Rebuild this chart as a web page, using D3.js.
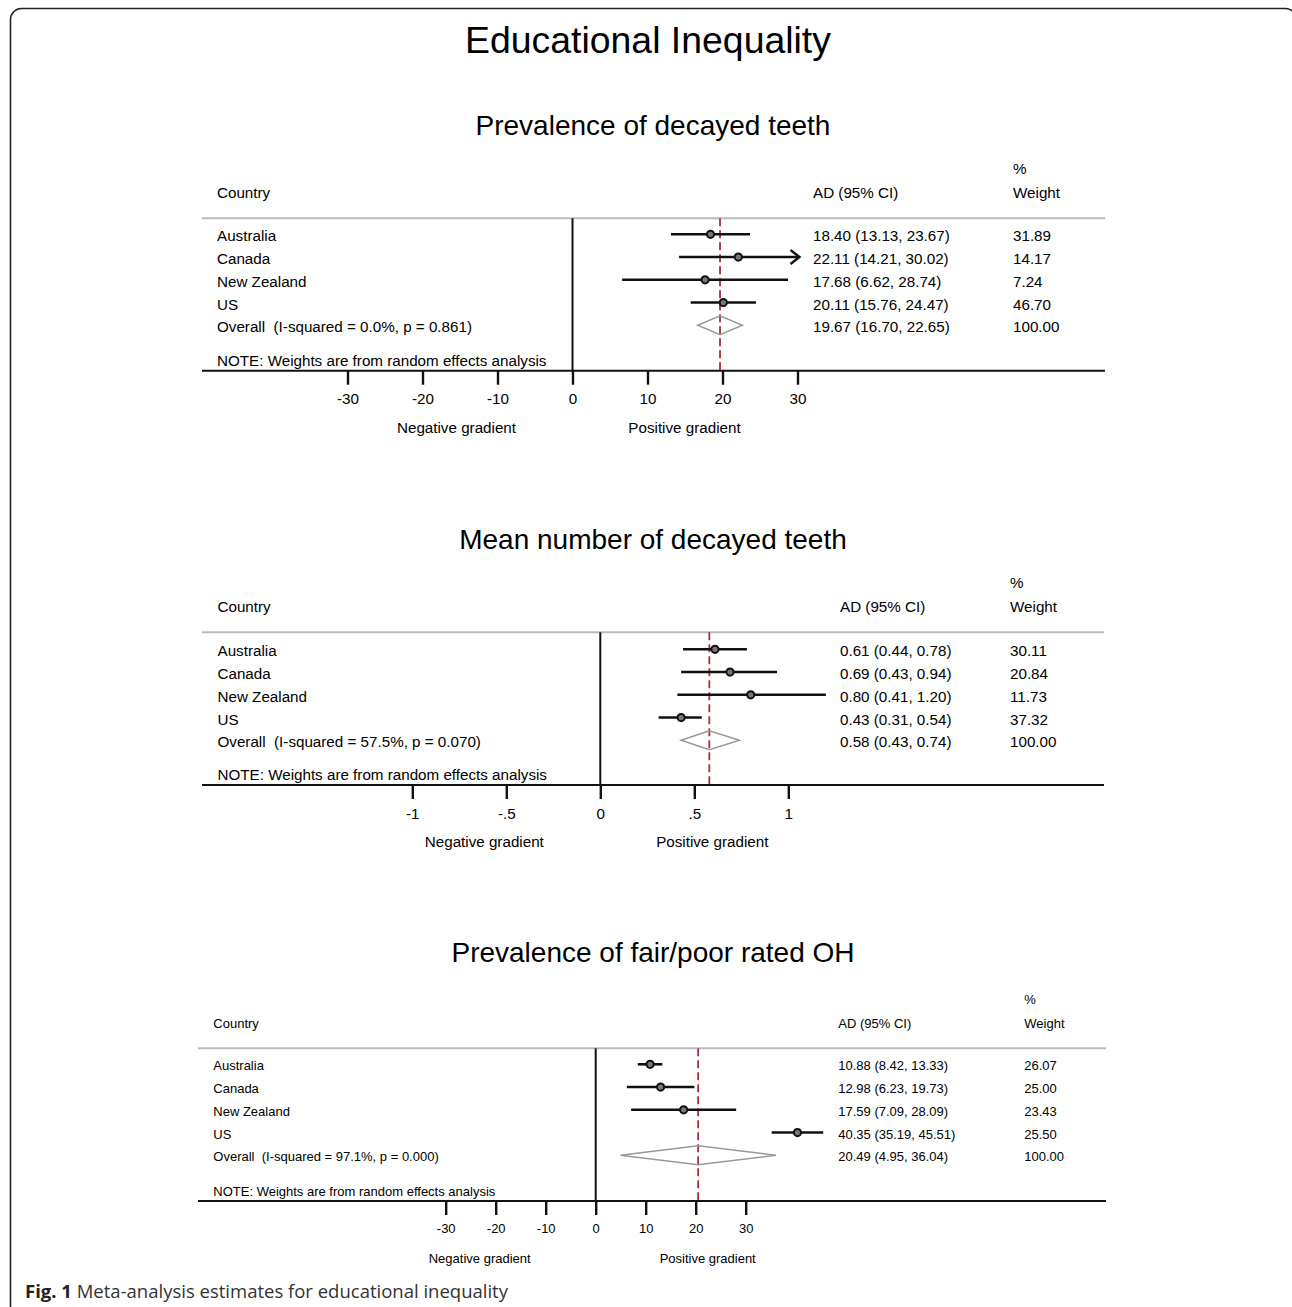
<!DOCTYPE html>
<html>
<head>
    <title>Educational Inequality</title>
    <script src="https://d3js.org/d3.v7.min.js"></script>
    <style>
        body { margin: 0; background: #fff; }
        text { white-space: pre; }
    </style>
</head>
<body>
    <script>
        // data
        const countries = ["Australia", "Canada", "New Zealand", "US"];

        const prevEst = [18.40, 22.11, 17.68, 20.11];
        const prevLo = [13.13, 14.21, 6.62, 15.76];
        const prevHi = [23.67, 30.02, 28.74, 24.47];
        const prevWeight = [31.89, 14.17, 7.24, 46.70];
        const prevOverall = [19.67, 16.70, 22.65];
        const prevHet = "I-squared = 0.0%, p = 0.861";

        const meanEst = [0.61, 0.69, 0.80, 0.43];
        const meanLo = [0.44, 0.43, 0.41, 0.31];
        const meanHi = [0.78, 0.94, 1.20, 0.54];
        const meanWeight = [30.11, 20.84, 11.73, 37.32];
        const meanOverall = [0.58, 0.43, 0.74];
        const meanHet = "I-squared = 57.5%, p = 0.070";

        const ohEst = [10.88, 12.98, 17.59, 40.35];
        const ohLo = [8.42, 6.23, 7.09, 35.19];
        const ohHi = [13.33, 19.73, 28.09, 45.51];
        const ohWeight = [26.07, 25.00, 23.43, 25.50];
        const ohOverall = [20.49, 4.95, 36.04];
        const ohHet = "I-squared = 97.1%, p = 0.000";

        const ticks30 = [-30, -20, -10, 0, 10, 20, 30];
        const tickLabels30 = ["-30", "-20", "-10", "0", "10", "20", "30"];
        const ticks1 = [-1, -0.5, 0, 0.5, 1];
        const tickLabels1 = ["-1", "-.5", "0", ".5", "1"];

        const W = 1292, H = 1307;
        const font = "'Liberation Sans', Arial, Helvetica, sans-serif";
        const f2 = d3.format(".2f");

        const svg = d3.select("body").append("svg")
            .attr("width", W).attr("height", H)
            .style("font-family", font);

        // frame (right and bottom edges run off the page)
        svg.append("rect")
            .attr("x", 10.5).attr("y", 8.5)
            .attr("width", 1286).attr("height", 1330)
            .attr("rx", 11)
            .attr("fill", "none").attr("stroke", "#222").attr("stroke-width", 1.6);

        svg.append("text")
            .attr("x", 648).attr("y", 53)
            .attr("text-anchor", "middle")
            .attr("font-size", 37.4).attr("fill", "#000")
            .text("Educational Inequality");

        // plotMax: CIs beyond it are cut and drawn with an arrow
        const panels = [
            {title: "Prevalence of decayed teeth", est: prevEst, lo: prevLo, hi: prevHi, wt: prevWeight,
             overall: prevOverall, het: prevHet, ticks: ticks30, tickLabels: tickLabels30, domain: [-30, 30],
             range: [347.5, 797.5], plotMax: 30, titleY: 135, head: 218.3, row0: 234.3, step: 22.75, axisY: 370.7,
             lineX: [202, 1105], countryX: 217, adX: 813, wtX: 1013, fs: 15.2, textDy: 7},
            {title: "Mean number of decayed teeth", est: meanEst, lo: meanLo, hi: meanHi, wt: meanWeight,
             overall: meanOverall, het: meanHet, ticks: ticks1, tickLabels: tickLabels1, domain: [-1, 1],
             range: [412.3, 788.3], plotMax: Infinity, titleY: 549, head: 632.3, row0: 649.3, step: 22.75, axisY: 785,
             lineX: [202, 1104], countryX: 217.5, adX: 840, wtX: 1010, fs: 15.2, textDy: 7},
            {title: "Prevalence of fair/poor rated OH", est: ohEst, lo: ohLo, hi: ohHi, wt: ohWeight,
             overall: ohOverall, het: ohHet, ticks: ticks30, tickLabels: tickLabels30, domain: [-30, 30],
             range: [445.7, 745.7], plotMax: Infinity, titleY: 962, head: 1048.3, row0: 1064.3, step: 22.75, axisY: 1201,
             lineX: [198, 1106], countryX: 213.3, adX: 838.3, wtX: 1024.3, fs: 13, textDy: 6}
        ];

        panels.forEach(p => {
            const g = svg.append("g");
            const x = d3.scaleLinear().domain(p.domain).range(p.range);
            const rowY = i => p.row0 + i * p.step;
            const txt = (xx, yy, s, anchor) => g.append("text")
                .attr("x", xx).attr("y", yy)
                .attr("text-anchor", anchor || "start")
                .attr("font-size", p.fs).attr("fill", "#000")
                .text(s);

            g.append("text")
                .attr("x", 653).attr("y", p.titleY)
                .attr("text-anchor", "middle")
                .attr("font-size", 28).attr("fill", "#000")
                .text(p.title);

            // headers
            const hy = p.head - 20.5;
            txt(p.countryX, hy, "Country");
            txt(p.adX, hy, "AD (95% CI)");
            txt(p.wtX, hy - 24, "%");
            txt(p.wtX, hy, "Weight");

            g.append("line")
                .attr("x1", p.lineX[0]).attr("x2", p.lineX[1])
                .attr("y1", p.head).attr("y2", p.head)
                .attr("stroke", "#bbb").attr("stroke-width", 2);

            // zero line
            g.append("line")
                .attr("x1", x(0)).attr("x2", x(0))
                .attr("y1", p.head).attr("y2", p.axisY)
                .attr("stroke", "#111").attr("stroke-width", 2);

            // overall estimate line
            g.append("line")
                .attr("x1", x(p.overall[0])).attr("x2", x(p.overall[0]))
                .attr("y1", p.head).attr("y2", p.axisY)
                .attr("stroke", "#a3303c").attr("stroke-width", 1.8)
                .attr("stroke-dasharray", "8,4");

            // study rows
            countries.forEach((c, i) => {
                const y = rowY(i);
                const hi = Math.min(p.hi[i], p.plotMax);
                g.append("line")
                    .attr("x1", x(p.lo[i])).attr("x2", x(hi))
                    .attr("y1", y).attr("y2", y)
                    .attr("stroke", "#111").attr("stroke-width", 2.6);
                if (p.hi[i] > p.plotMax) {
                    const tx = x(hi) + 2;
                    g.append("path")
                        .attr("d", `M${tx - 9},${y - 7} L${tx},${y} L${tx - 9},${y + 7}`)
                        .attr("fill", "none").attr("stroke", "#111").attr("stroke-width", 2.4);
                }
                g.append("circle")
                    .attr("cx", x(p.est[i])).attr("cy", y).attr("r", 3.6)
                    .attr("fill", "#777").attr("stroke", "#111").attr("stroke-width", 2);
                txt(p.countryX, y + p.textDy, c);
                txt(p.adX, y + p.textDy, `${f2(p.est[i])} (${f2(p.lo[i])}, ${f2(p.hi[i])})`);
                txt(p.wtX, y + p.textDy, f2(p.wt[i]));
            });

            // overall diamond
            const oy = rowY(4);
            const [oe, ol, oh] = p.overall;
            g.append("path")
                .attr("d", `M${x(ol)},${oy} L${x(oe)},${oy - 9.5} L${x(oh)},${oy} L${x(oe)},${oy + 9.5} Z`)
                .attr("fill", "none").attr("stroke", "#999").attr("stroke-width", 1.5);
            txt(p.countryX, oy + p.textDy, `Overall  (${p.het})`);
            txt(p.adX, oy + p.textDy, `${f2(oe)} (${f2(ol)}, ${f2(oh)})`);
            txt(p.wtX, oy + p.textDy, f2(100));

            txt(p.countryX, p.axisY - 5, "NOTE: Weights are from random effects analysis");

            // axis
            g.append("line")
                .attr("x1", p.lineX[0]).attr("x2", p.lineX[1])
                .attr("y1", p.axisY).attr("y2", p.axisY)
                .attr("stroke", "#111").attr("stroke-width", 2);

            const ax = g.append("g")
                .attr("transform", `translate(0,${p.axisY})`)
                .call(d3.axisBottom(x)
                    .tickValues(p.ticks)
                    .tickSize(14)
                    .tickPadding(9)
                    .tickFormat((d, i) => p.tickLabels[i]));
            ax.select(".domain").remove();
            ax.selectAll(".tick line").attr("stroke", "#111").attr("stroke-width", 2.4);
            ax.selectAll(".tick text")
                .attr("font-size", p.fs).attr("font-family", font).attr("fill", "#000");

            txt(x(0) - 116, p.axisY + 62, "Negative gradient", "middle");
            txt(x(0) + 112, p.axisY + 62, "Positive gradient", "middle");
        });

        // caption
        const cap = svg.append("text")
            .attr("x", 25).attr("y", 1298)
            .attr("font-family", "'Open Sans', sans-serif")
            .attr("font-size", 18.5).attr("fill", "#333");
        cap.append("tspan").attr("font-weight", "bold").attr("fill", "#222").text("Fig. 1");
        cap.append("tspan").text(" Meta-analysis estimates for educational inequality");
    </script>
</body>
</html>
